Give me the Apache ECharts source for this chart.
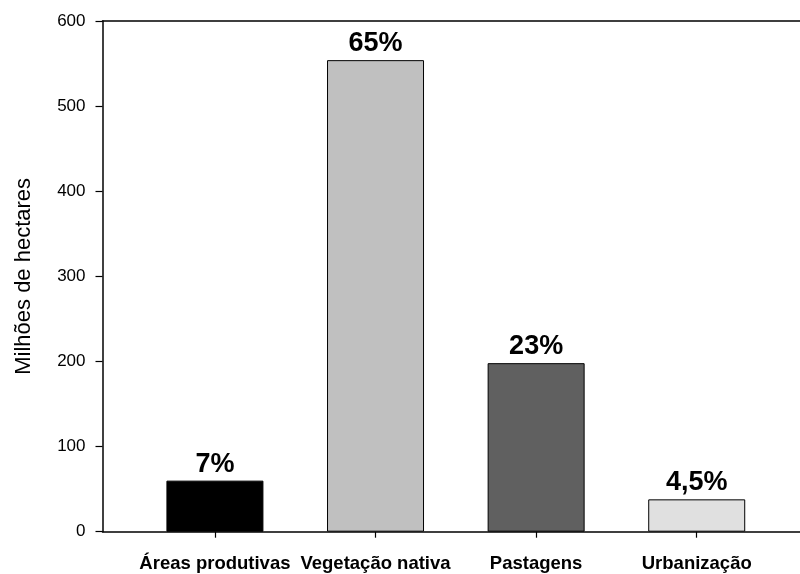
<!DOCTYPE html>
<html>
<head>
<meta charset="utf-8">
<script src="https://cdn.jsdelivr.net/npm/echarts@6/dist/echarts.min.js"></script>
<style>
html,body{margin:0;padding:0;background:#fff;}
#chart{width:800px;height:574px;}
</style>
</head>
<body>
<div id="chart"></div>
<script>
const categories = ['Áreas produtivas', 'Vegetação nativa', 'Pastagens', 'Urbanização'];
const hectares = [60, 554, 198, 38];
const percentLabels = ['7%', '65%', '23%', '4,5%'];
const yTicks = [0, 100, 200, 300, 400, 500, 600];
const barColors = ['#000000', '#c0c0c0', '#606060', '#e0e0e0'];

const FONT = "'Liberation Sans', Arial, Helvetica, sans-serif";
const positions = categories.map((c, i) => i);

const chart = echarts.init(document.getElementById('chart'), null, {renderer: 'canvas'});
chart.setOption({
  animation: false,
  backgroundColor: '#ffffff',
  grid: {left: 102.5, top: 21, bottom: 42.3, right: 0, containLabel: false},
  xAxis: [
    {
      type: 'value',
      min: -0.7,
      max: 3.643,
      axisLine: {show: true, onZero: false, lineStyle: {color: '#000', width: 1.5}},
      axisTick: {show: true, customValues: positions, length: 6, lineStyle: {color: '#000', width: 1.2}},
      axisLabel: {
        show: true,
        customValues: positions,
        formatter: v => categories[Math.round(v)] || '',
        fontFamily: FONT, fontSize: 18.5, fontWeight: 'bold', color: '#000', margin: 23
      },
      splitLine: {show: false}
    },
    {
      type: 'value',
      position: 'top',
      min: -0.7,
      max: 3.643,
      axisLine: {show: true, onZero: false, lineStyle: {color: '#000', width: 1.5}},
      axisTick: {show: false},
      axisLabel: {show: false},
      splitLine: {show: false}
    }
  ],
  yAxis: {
    type: 'value',
    min: yTicks[0],
    max: yTicks[yTicks.length - 1],
    interval: 100,
    name: 'Milhões de hectares',
    nameLocation: 'middle',
    nameGap: 68,
    nameTextStyle: {fontFamily: FONT, fontSize: 22, color: '#000'},
    axisLine: {show: true, onZero: false, lineStyle: {color: '#000', width: 1.5}},
    axisTick: {show: true, inside: false, length: 7, lineStyle: {color: '#000', width: 1.2}},
    axisLabel: {fontFamily: FONT, fontSize: 17, color: '#000', margin: 17},
    splitLine: {show: false}
  },
  series: [{
    type: 'bar',
    xAxisIndex: 0,
    barWidth: 97,
    data: hectares.map((v, i) => ({
      value: [positions[i], v],
      itemStyle: {color: barColors[i], borderColor: '#000', borderWidth: 1}
    })),
    label: {
      show: true,
      position: 'top',
      distance: 3,
      formatter: p => percentLabels[p.dataIndex],
      fontFamily: FONT, fontSize: 27, fontWeight: 'bold', color: '#000'
    }
  }]
});
</script>
</body>
</html>
